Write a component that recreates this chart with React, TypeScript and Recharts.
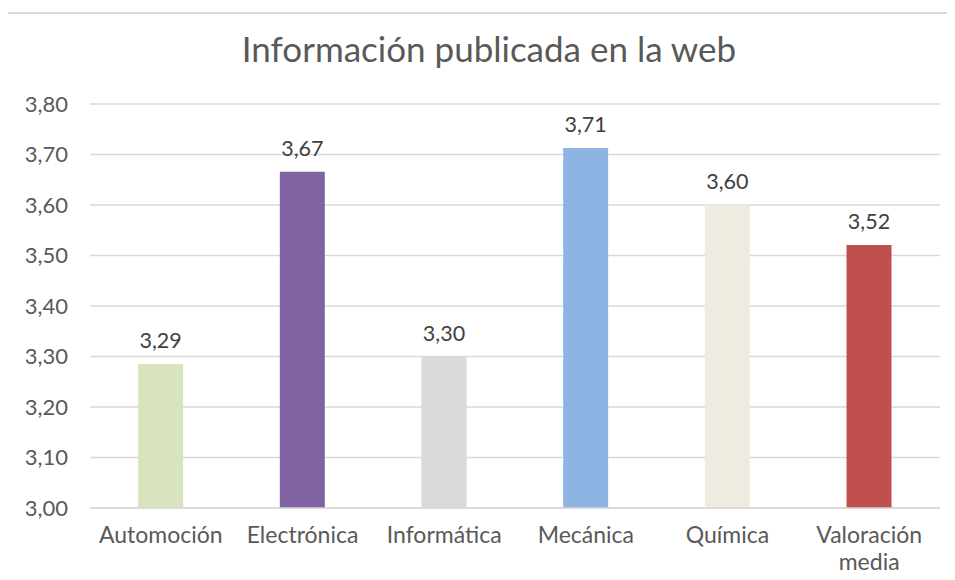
import { BarChart, Bar, XAxis, YAxis, CartesianGrid, Cell, LabelList } from "recharts";

const categories = ["Automoción", "Electrónica", "Informática", "Mecánica", "Química", "Valoración media"];
const values = [3.285, 3.666, 3.3, 3.713, 3.6, 3.521];
const barColors = ["#d7e4bd", "#8064a2", "#d9d9d9", "#8eb4e3", "#eeece1", "#c0504d"];
const yTicks = [3.0, 3.1, 3.2, 3.3, 3.4, 3.5, 3.6, 3.7, 3.8];

const data = categories.map((name, i) => ({ name, value: values[i] }));

const FONT = "Lato, 'Open Sans', sans-serif";
const fmt = (v: number) => v.toFixed(2).replace(".", ",");

function CategoryTick({ x, y, payload }: any) {
  const words: string[] = payload.value === "Valoración media" ? ["Valoración", "media"] : [payload.value];
  return (
    <text x={x} y={y} textAnchor="middle" fill="#595959" fontSize={23} fontFamily={FONT}>
      {words.map((w, i) => (
        <tspan key={w} x={x} dy={27}>
          {w}
        </tspan>
      ))}
    </text>
  );
}

export default function App() {
  return (
    <div style={{ position: "relative", width: 955, height: 580, margin: -8, background: "#fff", overflow: "hidden" }}>
      <div
        style={{
          position: "absolute",
          left: 0,
          top: 27,
          width: 978,
          textAlign: "center",
          fontFamily: FONT,
          fontSize: 35,
          color: "#595959",
        }}
      >
        Información publicada en la web
      </div>
      <div style={{ position: "absolute", left: 0, top: 0 }}>
        <BarChart
          width={955}
          height={580}
          data={data}
          margin={{ top: 104, right: 15, bottom: 0, left: 0 }}
          barCategoryGap="34%"
        >
          <CartesianGrid vertical={false} stroke="#d9d9d9" strokeWidth={1.5} />
          <XAxis
            dataKey="name"
            height={72}
            axisLine={{ stroke: "#d9d9d9", strokeWidth: 1.5 }}
            tickLine={false}
            interval={0}
            tick={<CategoryTick />}
          />
          <YAxis
            domain={[3.0, 3.8]}
            ticks={yTicks}
            width={90}
            axisLine={false}
            tickLine={false}
            tickMargin={16}
            tickFormatter={fmt}
            tick={{ fill: "#595959", fontSize: 22, fontFamily: FONT }}
            allowDataOverflow
          />
          <Bar dataKey="value" isAnimationActive={false}>
            {data.map((d, i) => (
              <Cell key={d.name} fill={barColors[i]} />
            ))}
            <LabelList
              dataKey="value"
              position="top"
              offset={16}
              formatter={(v: any) => fmt(Number(v))}
              style={{ fill: "#404040", fontSize: 21.5, fontFamily: FONT }}
            />
          </Bar>
        </BarChart>
      </div>
      {/* chart frame: only top and left edges fall inside the picture */}
      <div style={{ position: "absolute", left: 3, top: 12, width: 2, height: 570, background: "#d4d4d4", zIndex: 5 }} />
      <div style={{ position: "absolute", left: 3, top: 12, width: 960, height: 2, background: "#d9d9d9", zIndex: 5 }} />
    </div>
  );
}
